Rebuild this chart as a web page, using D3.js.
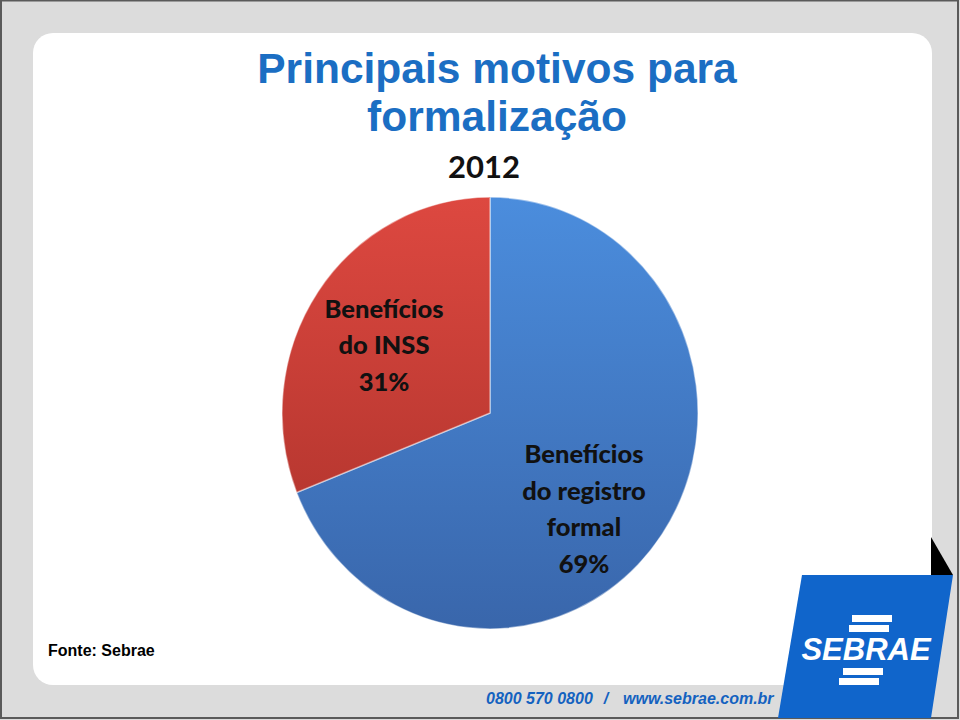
<!DOCTYPE html>
<html>
<head>
<meta charset="utf-8">
<script src="https://cdn.jsdelivr.net/npm/d3@7"></script>
<style>
  html, body { margin: 0; padding: 0; background: #dcdcdc; }
  svg { display: block; }
</style>
</head>
<body>
<svg id="chart" width="960" height="720"></svg>
<script>
// ---- data ----
const categories = ["Benefícios do registro formal", "Benefícios do INSS"];
const values = [69, 31];
const labelLines = [
  ["Benefícios", "do registro", "formal", "69%"],
  ["Benefícios", "do INSS", "31%"]
];
const titleLines = ["Principais motivos para", "formalização"];
const yearLabel = "2012";
const sourceText = "Fonte: Sebrae";
const phoneText = "0800 570 0800";
const urlText = "www.sebrae.com.br";
const logoText = "SEBRAE";

// ---- styles / layout ----
const W = 960, H = 720;
const cx = 490, cy = 413, R = 208, yStretch = 1.038;
const sliceTop = ["#4b8ddd", "#dd4840"];
const sliceBottom = ["#3966ab", "#a83029"];
const labelCenters = [[584, 510], [384, 346]];
const lineGap = 36.5;

const svg = d3.select("#chart");
const defs = svg.append("defs");

// slide background
svg.append("rect").attr("x", 0).attr("y", 0).attr("width", W).attr("height", H)
  .attr("fill", "#dcdcdc");
svg.append("rect").attr("x", 33).attr("y", 33).attr("width", 899).attr("height", 652)
  .attr("rx", 20).attr("ry", 20).attr("fill", "#ffffff");
// frame border
svg.append("rect").attr("x", 1).attr("y", 0.5).attr("width", W - 3).attr("height", H - 2.5)
  .attr("fill", "none").attr("stroke", "#5a5a5a").attr("stroke-width", 2);

// title
svg.append("g").selectAll("text").data(titleLines).join("text")
  .attr("x", 497).attr("y", (d, i) => 83 + i * 47.5)
  .attr("text-anchor", "middle")
  .attr("font-family", "'Liberation Sans', Arial, sans-serif")
  .attr("font-weight", "bold").attr("font-size", 42.5)
  .attr("fill", "#1b6ec3")
  .text(d => d);

svg.append("text").attr("x", 484).attr("y", 178).attr("text-anchor", "middle")
  .attr("font-family", "Lato, sans-serif").attr("font-weight", "bold")
  .attr("font-size", 31).attr("fill", "#111").text(yearLabel);

// gradients for slices
values.forEach((v, i) => {
  const g = defs.append("linearGradient").attr("id", "grad" + i)
    .attr("gradientUnits", "userSpaceOnUse")
    .attr("x1", 0).attr("y1", -R).attr("x2", 0).attr("y2", R);
  g.append("stop").attr("offset", "0%").attr("stop-color", sliceTop[i]);
  g.append("stop").attr("offset", "100%").attr("stop-color", sliceBottom[i]);
});

// pie
const pie = d3.pie().sort(null).value(d => d);
const arc = d3.arc().innerRadius(0).outerRadius(R);
const arcs = pie(values);

const pg = svg.append("g").attr("transform", `translate(${cx},${cy}) scale(1,${yStretch})`);
pg.selectAll("path").data(arcs).join("path")
  .attr("d", arc)
  .attr("fill", (d, i) => `url(#grad${i})`)
  .attr("stroke", "rgba(255,255,255,0.45)")
  .attr("stroke-width", 1.5)
  .attr("stroke-linejoin", "round");

// labels
const lg = svg.append("g");
arcs.forEach((a, i) => {
  const lines = labelLines[i];
  const [lx, ly] = labelCenters[i];
  const n = lines.length;
  lg.append("g").selectAll("text").data(lines).join("text")
    .attr("x", lx)
    .attr("y", (d, j) => ly + (j - (n - 1) / 2) * lineGap + 8)
    .attr("text-anchor", "middle")
    .attr("font-family", "Lato, sans-serif").attr("font-weight", 900)
    .attr("font-size", 25.5).attr("fill", "#111")
    .text(d => d);
});

// source
svg.append("text").attr("x", 48).attr("y", 656)
  .attr("font-family", "'Liberation Sans', Arial, sans-serif")
  .attr("font-weight", "bold").attr("font-size", 16).attr("fill", "#000")
  .text(sourceText);

// footer
const footFont = "'Liberation Sans', Arial, sans-serif";
svg.append("text").attr("x", 486).attr("y", 704)
  .attr("font-family", footFont).attr("font-weight", "bold").attr("font-style", "italic")
  .attr("font-size", 16).attr("fill", "#1462c0").text(phoneText);
svg.append("text").attr("x", 606).attr("y", 704).attr("text-anchor", "middle")
  .attr("font-family", footFont).attr("font-weight", "bold").attr("font-style", "italic")
  .attr("font-size", 16).attr("fill", "#1462c0").text("/");
svg.append("text").attr("x", 623).attr("y", 704)
  .attr("font-family", footFont).attr("font-weight", "bold").attr("font-style", "italic")
  .attr("font-size", 16).attr("fill", "#1462c0").text(urlText);

// logo
svg.append("polygon").attr("points", "931,537 953,575 931,575").attr("fill", "#000");
svg.append("polygon").attr("points", "802,575 953,575 931,718 778,718").attr("fill", "#1065cb");
const stripes = [[852, 615, 40], [849, 625, 40], [843, 668, 40], [839, 678, 40]];
svg.append("g").selectAll("rect").data(stripes).join("rect")
  .attr("x", d => d[0]).attr("y", d => d[1]).attr("width", d => d[2]).attr("height", 7)
  .attr("fill", "#fff");
svg.append("text").attr("x", 866).attr("y", 660).attr("text-anchor", "middle")
  .attr("font-family", footFont).attr("font-weight", "bold").attr("font-style", "italic")
  .attr("font-size", 31).attr("fill", "#fff").text(logoText);
</script>
</body>
</html>
